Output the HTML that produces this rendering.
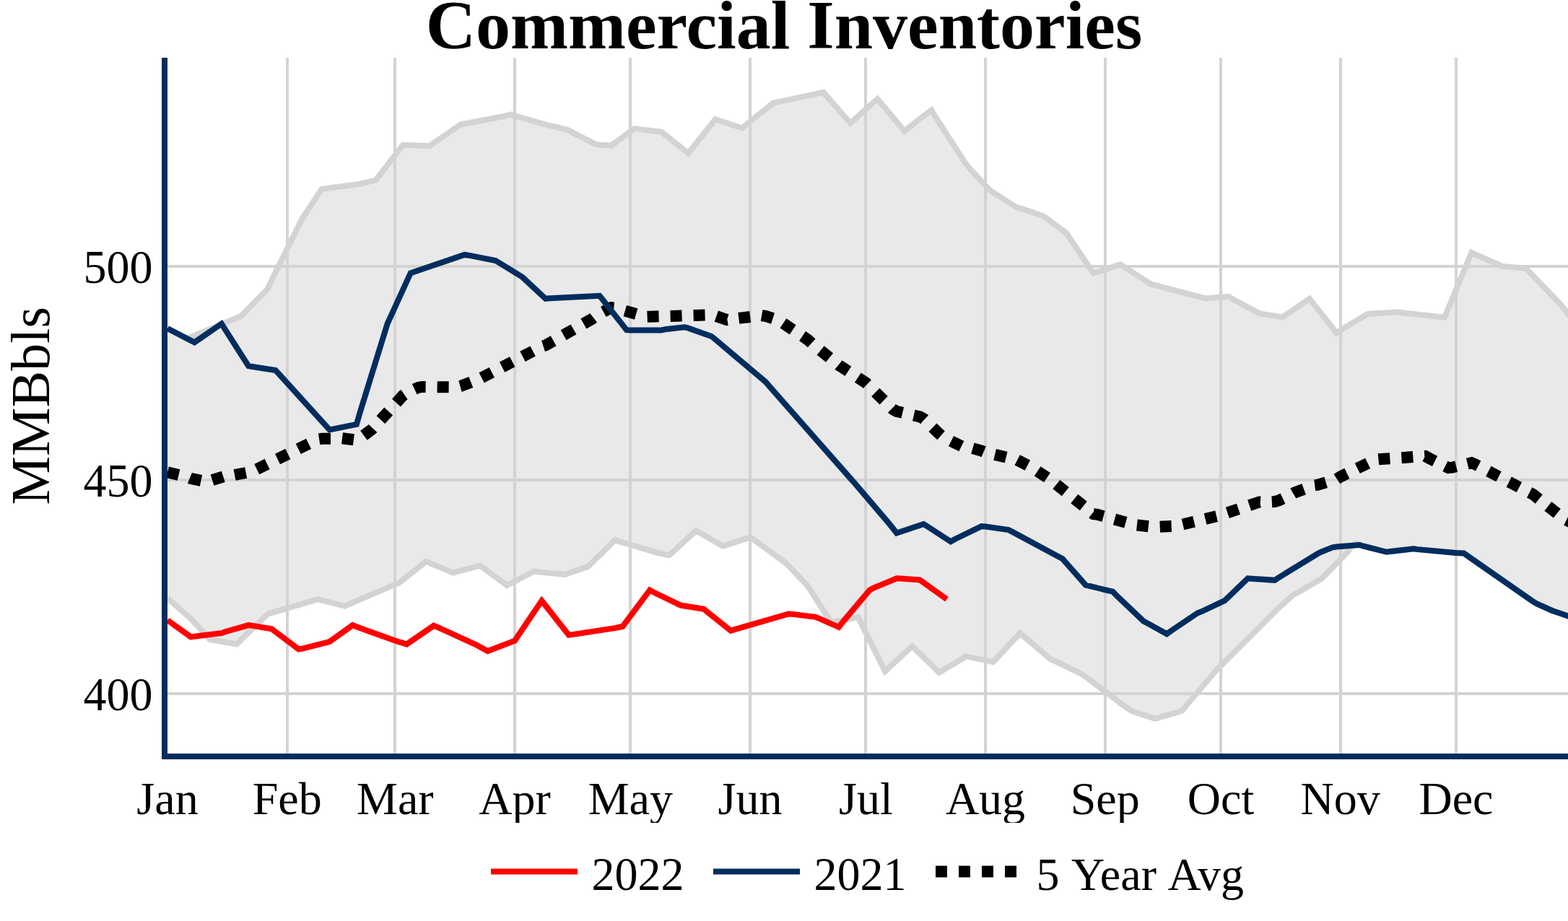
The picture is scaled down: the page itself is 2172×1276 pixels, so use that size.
<!DOCTYPE html>
<html lang="en"><head><meta charset="utf-8"><title>Commercial Inventories</title>
<style>html,body{margin:0;padding:0;background:#fff}body{width:2172px;height:1276px;overflow:hidden}svg{display:block}text{font-family:"Liberation Serif","Times New Roman",Times,serif;fill:#000}.ln{fill:none;stroke-width:8;stroke-linejoin:miter;stroke-miterlimit:2}</style></head><body>
<svg width="2172" height="1276" viewBox="0 0 2172 1276">
<rect x="0" y="0" width="2172" height="1276" fill="#fff"/>
<defs><clipPath id="plot"><rect x="232" y="80" width="1940" height="964"/></clipPath></defs>
<g fill="#d3d3d3" shape-rendering="crispEdges">
<rect x="396" y="80" width="4" height="964"/>
<rect x="545" y="80" width="4" height="964"/>
<rect x="711" y="80" width="4" height="964"/>
<rect x="871" y="80" width="4" height="964"/>
<rect x="1037" y="80" width="4" height="964"/>
<rect x="1197" y="80" width="4" height="964"/>
<rect x="1363" y="80" width="4" height="964"/>
<rect x="1529" y="80" width="4" height="964"/>
<rect x="1689" y="80" width="4" height="964"/>
<rect x="1855" y="80" width="4" height="964"/>
<rect x="2015" y="80" width="4" height="964"/>
<rect x="232" y="959" width="1940" height="4"/>
<rect x="232" y="663" width="1940" height="4"/>
<rect x="232" y="367" width="1940" height="4"/>
</g>
<g clip-path="url(#plot)">
<path d="M232.00,455.08L258.72,468.80L264.08,467.00L333.56,438.28L338.88,432.80L370.96,400.00L376.28,388.32L419.04,302.04L424.40,293.96L445.76,261.72L451.12,261.24L499.20,254.60L504.56,253.32L520.60,249.52L525.92,242.56L558.00,200.92L563.36,201.12L595.40,202.32L600.76,198.12L638.16,172.24L643.52,171.52L696.96,161.24L702.32,159.92L707.64,158.60L713.00,160.40L761.08,174.04L766.44,174.92L787.80,180.60L793.16,183.68L825.24,199.88L830.56,200.64L846.60,201.56L851.96,197.68L878.68,178.24L884.00,178.88L916.08,182.68L921.44,186.88L953.48,212.16L958.84,205.44L990.88,165.24L996.24,166.96L1028.32,177.52L1033.64,172.68L1071.08,142.64L1076.40,141.60L1140.52,127.92L1145.88,134.00L1177.96,170.52L1183.28,165.72L1215.36,137.04L1220.72,143.40L1252.76,181.40L1258.12,177.28L1290.20,152.44L1295.52,161.44L1338.28,227.72L1343.64,233.96L1370.36,262.72L1375.68,266.56L1407.76,287.00L1413.12,288.40L1445.16,299.24L1450.52,303.20L1477.24,323.04L1482.56,330.96L1514.64,378.48L1520.00,376.76L1552.04,366.44L1557.40,370.16L1594.80,393.80L1600.16,395.20L1669.64,413.40L1674.96,413.00L1701.68,410.88L1707.04,414.12L1744.44,434.32L1749.80,435.16L1776.52,439.40L1781.88,435.76L1813.92,413.84L1819.28,420.60L1851.32,461.20L1856.68,457.56L1894.08,435.20L1899.44,434.56L1936.84,432.60L1942.20,433.24L2001.00,439.80L2006.32,426.96L2038.40,349.88L2043.72,352.52L2081.16,368.92L2086.48,369.40L2113.20,371.76L2118.56,376.88L2161.32,421.20L2166.64,428.00L2177.36,441.52L2177.36,855.32L2155.96,848.08L2150.64,846.24L2129.24,836.60L2123.92,833.56L2033.04,770.28L2027.72,766.40L2022.36,766.20L2017.00,766.00L1963.56,761.12L1958.24,760.36L1926.16,763.92L1920.80,764.76L1883.40,754.96L1878.08,753.20L1872.72,755.44L1867.36,764.12L1835.32,797.28L1829.96,802.16L1797.88,820.64L1792.56,823.40L1771.16,842.20L1765.84,847.56L1691.00,922.36L1685.68,927.40L1642.92,978.00L1637.56,984.76L1605.48,994.16L1600.16,995.72L1573.44,987.00L1568.08,985.28L1552.04,974.56L1546.72,970.08L1503.96,937.64L1498.60,934.00L1461.20,915.88L1455.84,913.68L1418.44,881.92L1413.12,876.96L1381.04,911.52L1375.68,917.24L1343.64,910.40L1338.28,909.24L1306.20,928.56L1300.88,931.76L1268.80,900.60L1263.48,895.40L1231.40,925.00L1226.04,929.92L1194.00,865.84L1188.64,855.16L1156.56,861.48L1151.24,862.52L1124.52,820.68L1119.16,812.32L1092.44,783.96L1087.08,778.96L1044.36,747.92L1039.00,744.44L1006.92,754.92L1001.60,756.68L969.52,738.32L964.16,735.24L932.12,764.56L926.76,769.48L916.08,767.08L910.72,765.92L857.28,750.00L851.96,748.16L819.88,779.68L814.52,784.96L787.80,794.12L782.48,795.96L745.04,792.36L739.72,791.48L707.64,808.24L702.32,811.04L670.24,787.60L664.88,783.72L632.84,792.04L627.48,793.44L595.40,780.12L590.08,777.92L552.68,807.64L547.32,809.68L483.20,837.20L477.84,839.76L445.76,831.56L440.44,830.20L376.28,849.12L370.96,850.72L333.56,886.68L328.20,892.44L296.12,887.00L290.80,886.08L269.40,862.88L264.08,857.08L232.00,828.72Z" fill="rgb(211,211,211)" fill-opacity="0.5" stroke="none"/>
<path class="ln" d="M232.00,455.08L258.72,468.80L264.08,467.00L333.56,438.28L338.88,432.80L370.96,400.00L376.28,388.32L419.04,302.04L424.40,293.96L445.76,261.72L451.12,261.24L499.20,254.60L504.56,253.32L520.60,249.52L525.92,242.56L558.00,200.92L563.36,201.12L595.40,202.32L600.76,198.12L638.16,172.24L643.52,171.52L696.96,161.24L702.32,159.92L707.64,158.60L713.00,160.40L761.08,174.04L766.44,174.92L787.80,180.60L793.16,183.68L825.24,199.88L830.56,200.64L846.60,201.56L851.96,197.68L878.68,178.24L884.00,178.88L916.08,182.68L921.44,186.88L953.48,212.16L958.84,205.44L990.88,165.24L996.24,166.96L1028.32,177.52L1033.64,172.68L1071.08,142.64L1076.40,141.60L1140.52,127.92L1145.88,134.00L1177.96,170.52L1183.28,165.72L1215.36,137.04L1220.72,143.40L1252.76,181.40L1258.12,177.28L1290.20,152.44L1295.52,161.44L1338.28,227.72L1343.64,233.96L1370.36,262.72L1375.68,266.56L1407.76,287.00L1413.12,288.40L1445.16,299.24L1450.52,303.20L1477.24,323.04L1482.56,330.96L1514.64,378.48L1520.00,376.76L1552.04,366.44L1557.40,370.16L1594.80,393.80L1600.16,395.20L1669.64,413.40L1674.96,413.00L1701.68,410.88L1707.04,414.12L1744.44,434.32L1749.80,435.16L1776.52,439.40L1781.88,435.76L1813.92,413.84L1819.28,420.60L1851.32,461.20L1856.68,457.56L1894.08,435.20L1899.44,434.56L1936.84,432.60L1942.20,433.24L2001.00,439.80L2006.32,426.96L2038.40,349.88L2043.72,352.52L2081.16,368.92L2086.48,369.40L2113.20,371.76L2118.56,376.88L2161.32,421.20L2166.64,428.00L2177.36,441.52" stroke="#d3d3d3"/>
<path class="ln" d="M232.00,828.72L264.08,857.08L269.40,862.88L290.80,886.08L296.12,887.00L328.20,892.44L333.56,886.68L370.96,850.72L376.28,849.12L440.44,830.20L445.76,831.56L477.84,839.76L483.20,837.20L547.32,809.68L552.68,807.64L590.08,777.92L595.40,780.12L627.48,793.44L632.84,792.04L664.88,783.72L670.24,787.60L702.32,811.04L707.64,808.24L739.72,791.48L745.04,792.36L782.48,795.96L787.80,794.12L814.52,784.96L819.88,779.68L851.96,748.16L857.28,750.00L910.72,765.92L916.08,767.08L926.76,769.48L932.12,764.56L964.16,735.24L969.52,738.32L1001.60,756.68L1006.92,754.92L1039.00,744.44L1044.36,747.92L1087.08,778.96L1092.44,783.96L1119.16,812.32L1124.52,820.68L1151.24,862.52L1156.56,861.48L1188.64,855.16L1194.00,865.84L1226.04,929.92L1231.40,925.00L1263.48,895.40L1268.80,900.60L1300.88,931.76L1306.20,928.56L1338.28,909.24L1343.64,910.40L1375.68,917.24L1381.04,911.52L1413.12,876.96L1418.44,881.92L1455.84,913.68L1461.20,915.88L1498.60,934.00L1503.96,937.64L1546.72,970.08L1552.04,974.56L1568.08,985.28L1573.44,987.00L1600.16,995.72L1605.48,994.16L1637.56,984.76L1642.92,978.00L1685.68,927.40L1691.00,922.36L1765.84,847.56L1771.16,842.20L1792.56,823.40L1797.88,820.64L1829.96,802.16L1835.32,797.28L1867.36,764.12L1872.72,755.44L1878.08,753.20L1883.40,754.96L1920.80,764.76L1926.16,763.92L1958.24,760.36L1963.56,761.12L2017.00,766.00L2022.36,766.20L2027.72,766.40L2033.04,770.28L2123.92,833.56L2129.24,836.60L2150.64,846.24L2155.96,848.08L2177.36,855.32" stroke="#d3d3d3"/>
<path class="ln" d="M232.00,654.16L258.72,660.60L264.08,662.80L285.44,667.36L290.80,666.12L312.16,659.36L317.52,659.44L349.56,653.32L354.92,650.48L440.44,608.56L445.76,607.76L467.16,607.72L472.48,607.00L493.88,609.72L499.20,606.68L515.24,594.84L520.60,589.20L558.00,548.12L563.36,544.32L579.40,536.84L584.72,535.96L632.84,536.48L638.16,535.00L664.88,524.52L670.24,521.76L750.40,480.12L755.76,478.44L819.88,441.96L825.24,437.84L846.60,426.24L851.96,426.60L894.68,438.92L900.04,438.72L985.56,436.32L990.88,437.60L1006.92,443.12L1012.28,442.28L1055.04,437.04L1060.36,437.92L1076.40,443.00L1081.76,445.84L1119.16,470.76L1124.52,475.64L1161.92,505.96L1167.28,509.36L1199.32,530.32L1204.68,535.56L1236.72,566.92L1242.08,569.84L1274.16,577.36L1279.48,580.28L1300.88,600.92L1306.20,605.44L1332.92,618.68L1338.28,618.52L1359.64,624.56L1365.00,626.80L1402.40,635.64L1407.76,636.56L1423.80,644.84L1429.12,647.64L1455.84,665.08L1461.20,669.44L1514.64,712.20L1520.00,712.88L1568.08,726.16L1573.44,727.40L1600.16,730.32L1605.48,729.72L1626.88,728.80L1632.24,727.96L1691.00,713.92L1696.36,711.76L1744.44,695.48L1749.80,695.88L1765.84,694.96L1771.16,693.48L1787.20,685.96L1792.56,682.84L1819.28,672.68L1824.60,672.00L1851.32,664.08L1856.68,660.48L1904.80,636.84L1910.12,636.32L1974.24,631.88L1979.60,634.80L2006.32,648.16L2011.68,647.68L2038.40,641.24L2043.72,643.48L2123.92,685.12L2129.24,689.48L2166.64,719.04L2172.00,721.68L2177.36,724.32" stroke="#000" style="stroke-width:16;stroke-dasharray:16 16"/>
<path class="ln" d="M232.00,455.08L269.40,474.32L274.76,470.64L306.84,448.56L312.16,456.92L344.24,507.20L349.56,508.04L381.64,513.08L387.00,518.72L456.48,595.40L461.80,594.32L493.88,587.80L499.20,569.56L536.64,448.48L541.96,436.80L568.68,378.44L574.04,376.44L643.52,352.96L648.84,353.68L686.28,361.12L691.60,364.08L723.68,383.96L729.04,388.96L755.76,413.84L761.08,413.36L830.56,409.80L835.92,416.56L867.96,457.12L873.32,457.48L916.08,457.40L921.44,456.28L948.16,453.24L953.48,454.64L985.56,465.96L990.88,470.24L1060.36,528.96L1065.72,535.20L1177.96,662.76L1183.28,668.56L1231.40,725.16L1236.72,731.84L1242.08,738.52L1247.44,736.76L1279.48,726.04L1284.84,729.52L1316.92,750.24L1322.24,747.20L1359.64,729.16L1365.00,729.56L1397.08,734.16L1402.40,736.92L1471.88,774.28L1477.24,780.36L1503.96,810.68L1509.32,811.96L1541.36,819.72L1546.72,825.12L1584.12,860.68L1589.48,863.60L1616.20,878.32L1621.52,874.48L1658.96,849.24L1664.28,847.28L1696.36,832.20L1701.68,827.04L1728.40,801.32L1733.76,801.68L1765.84,803.84L1771.16,800.24L1824.60,767.48L1829.96,764.68L1846.00,758.28L1851.32,757.44L1883.40,754.96L1888.76,756.72L1920.80,764.76L1926.16,763.92L1958.24,760.36L1963.56,761.12L2017.00,766.00L2022.36,766.20L2027.72,766.40L2033.04,770.28L2123.92,833.56L2129.24,836.60L2150.64,846.24L2155.96,848.08L2177.36,855.32" stroke="#002d5e"/>
<path class="ln" d="M232.00,859.16L264.08,882.28L269.40,881.84L306.84,877.20L312.16,875.20L344.24,866.04L349.56,866.92L376.28,871.36L381.64,875.36L413.72,899.52L419.04,898.56L456.48,889.04L461.80,885.24L488.52,866.16L493.88,868.36L552.68,889.40L558.00,890.96L563.36,892.56L568.68,888.88L600.76,866.84L606.12,868.96L659.56,893.36L664.88,896.28L675.60,902.08L680.92,900.04L713.00,887.76L718.32,879.84L750.40,832.24L755.76,839.00L787.80,879.72L793.16,879.12L851.96,870.12L857.28,869.00L862.64,867.88L867.96,860.72L900.04,817.64L905.40,820.52L942.80,838.60L948.16,839.48L974.88,843.76L980.20,848.08L1012.28,873.80L1017.60,872.08L1092.44,850.52L1097.80,850.88L1129.84,854.84L1135.20,857.16L1161.92,868.84L1167.28,861.88L1204.68,817.36L1210.00,814.60L1242.08,801.20L1247.44,801.60L1274.16,803.48L1279.48,807.28L1311.56,830.24" stroke="#ff0000"/>
</g>
<g fill="#002d5e" shape-rendering="crispEdges"><rect x="224" y="1044" width="1948" height="8"/><rect x="224" y="80" width="8" height="972"/></g>
<g font-size="64" text-anchor="middle">
<text x="232.00" y="1128.3">Jan</text>
<text x="397.67" y="1128.3">Feb</text>
<text x="547.32" y="1128.3">Mar</text>
<text x="712.99" y="1128.3">Apr</text>
<text x="873.32" y="1128.3">May</text>
<text x="1039.00" y="1128.3">Jun</text>
<text x="1199.33" y="1128.3">Jul</text>
<text x="1365.00" y="1128.3">Aug</text>
<text x="1530.68" y="1128.3">Sep</text>
<text x="1691.01" y="1128.3">Oct</text>
<text x="1856.68" y="1128.3">Nov</text>
<text x="2017.01" y="1128.3">Dec</text>
</g>
<g font-size="64" text-anchor="end">
<text transform="translate(211.5,984.20) scale(1,1.04)">400</text>
<text transform="translate(211.5,688.20) scale(1,1.04)">450</text>
<text transform="translate(211.5,392.20) scale(1,1.04)">500</text>
</g>
<text x="1086" y="66.8" font-size="96" font-weight="bold" text-anchor="middle">Commercial Inventories</text>
<text transform="translate(67.8,562.3) rotate(-90)" font-size="76" text-anchor="middle">MMBbls</text>
<rect x="652" y="1140" width="1100" height="136" fill="#fff"/>
<g font-size="64">
<path d="M680,1207.5H800" stroke="#ff0000" stroke-width="8" fill="none"/><text transform="translate(819.5,1232.8) scale(1,1.04)">2022</text>
<path d="M988,1207.5H1108" stroke="#002d5e" stroke-width="8" fill="none"/><text transform="translate(1127.5,1232.8) scale(1,1.04)">2021</text>
<path d="M1296,1207.5H1416" stroke="#000" stroke-width="16" stroke-dasharray="16 16" fill="none"/><text y="1232.8" style="white-space:pre"><tspan x="1435.5">5 </tspan><tspan x="1484">Year </tspan><tspan x="1617.5">Avg</tspan></text>
</g>
</svg></body></html>
